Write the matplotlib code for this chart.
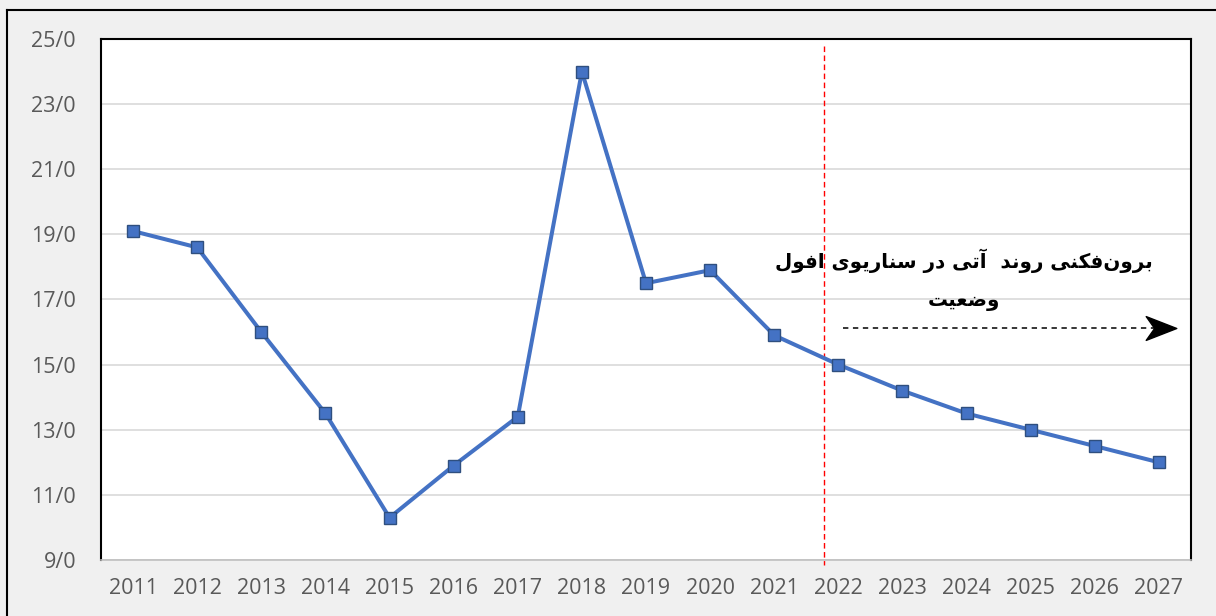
import matplotlib.pyplot as plt
from matplotlib.lines import Line2D
from matplotlib.path import Path

years = list(range(2011, 2028))
values = [19.1, 18.6, 16.0, 13.5, 10.3, 11.9, 13.4, 24.0, 17.5, 17.9,
          15.9, 15.0, 14.2, 13.5, 13.0, 12.5, 12.0]
ytick_vals = [9, 11, 13, 15, 17, 19, 21, 23, 25]
ytick_labels = ['9/0', '11/0', '13/0', '15/0', '17/0', '19/0', '21/0', '23/0', '25/0']
note_text = 'برون\u200cفکنی روند  آتی در سناریوی افول\nوضعیت'
split_year = 2021.78

# matplotlib has no arabic shaping, so map letters to presentation forms by hand
FORMS = {  # isolated, final, initial, medial
    'ا': ('\uFE8D', '\uFE8E', None, None),
    'آ': ('\uFE81', '\uFE82', None, None),
    'ب': ('\uFE8F', '\uFE90', '\uFE91', '\uFE92'),
    'ت': ('\uFE95', '\uFE96', '\uFE97', '\uFE98'),
    'د': ('\uFEA9', '\uFEAA', None, None),
    'ر': ('\uFEAD', '\uFEAE', None, None),
    'س': ('\uFEB1', '\uFEB2', '\uFEB3', '\uFEB4'),
    'ض': ('\uFEBD', '\uFEBE', '\uFEBF', '\uFEC0'),
    'ع': ('\uFEC9', '\uFECA', '\uFECB', '\uFECC'),
    'ف': ('\uFED1', '\uFED2', '\uFED3', '\uFED4'),
    'ک': ('\uFED9', '\uFEDA', '\uFEDB', '\uFEDC'),
    'ل': ('\uFEDD', '\uFEDE', '\uFEDF', '\uFEE0'),
    'ن': ('\uFEE5', '\uFEE6', '\uFEE7', '\uFEE8'),
    'و': ('\uFEED', '\uFEEE', None, None),
    'ی': ('\uFEEF', '\uFEF0', '\uFEF3', '\uFEF4'),
}


def shape_line(s):
    out = []
    for i, ch in enumerate(s):
        if ch not in FORMS:
            if ch != '\u200c':
                out.append(ch)
            continue
        prev = s[i - 1] if i > 0 else ''
        nxt = s[i + 1] if i + 1 < len(s) else ''
        join_prev = prev in FORMS and FORMS[prev][2] is not None
        join_next = nxt in FORMS and FORMS[ch][2] is not None
        iso, fin, ini, med = FORMS[ch]
        if join_prev and join_next:
            out.append(med)
        elif join_prev:
            out.append(fin)
        elif join_next:
            out.append(ini)
        else:
            out.append(iso)
    return ''.join(out)[::-1]


def shape(s):
    return '\n'.join(shape_line(l) for l in s.split('\n'))


plt.rcParams['font.family'] = ['Open Sans', 'DejaVu Sans']

fig = plt.figure(figsize=(12.16, 6.16), dpi=100, facecolor='#f0f0f0')
ax = fig.add_axes([0.0831, 0.0909, 0.8963, 0.8458])
ax.set_facecolor('white')

fig.add_artist(Line2D([7 / 1216, 1], [1 - 10 / 616, 1 - 10 / 616], color='black', lw=1.5))
fig.add_artist(Line2D([7 / 1216, 7 / 1216], [0, 1 - 10 / 616], color='black', lw=1.5))

ax.plot(years, values, color='#4472c4', lw=2.9, marker='s', markersize=8.5,
        markerfacecolor='#4472c4', markeredgecolor='#2f4f7f', markeredgewidth=1, zorder=3)

ax.set_xlim(2010.5, 2027.5)
ax.set_ylim(9, 25)
ax.set_xticks(years)
ax.set_xticklabels([str(y) for y in years])
ax.set_yticks(ytick_vals)
ax.set_yticklabels(ytick_labels)
ax.tick_params(length=0, labelsize=15.5, labelcolor='#595959')
ax.tick_params(axis='y', pad=18)
ax.tick_params(axis='x', pad=13)
ax.grid(axis='y', color='#d9d9d9', lw=1.2)
ax.set_axisbelow(True)
for side in ['left', 'top', 'right']:
    ax.spines[side].set_color('black')
    ax.spines[side].set_linewidth(1.5)
ax.spines['bottom'].set_color('#bfbfbf')
ax.spines['bottom'].set_linewidth(1.2)

ax.plot([split_year, split_year], [24.8, 8.85], color='red', lw=1, ls=(0, (4, 2.5)),
        clip_on=False, zorder=2)

# dashed arrow with a stealth-like head
head = Path([(-1, -0.78), (1, 0), (-1, 0.78), (-0.45, 0), (-1, -0.78)],
            [Path.MOVETO, Path.LINETO, Path.LINETO, Path.LINETO, Path.CLOSEPOLY])
ax.plot([2022.08, 2026.95], [16.14, 16.14], color='black', lw=1.1, ls=(0, (3.5, 3)))
ax.plot([2027.04], [16.14], marker=head, markersize=22, color='black', lw=0)

ax.text(2023.96, 17.6, shape(note_text), ha='center', va='center', fontsize=14.3,
        fontweight='bold', family='DejaVu Sans', linespacing=2.2)

fig.savefig('out.png', dpi=100, facecolor=fig.get_facecolor())
